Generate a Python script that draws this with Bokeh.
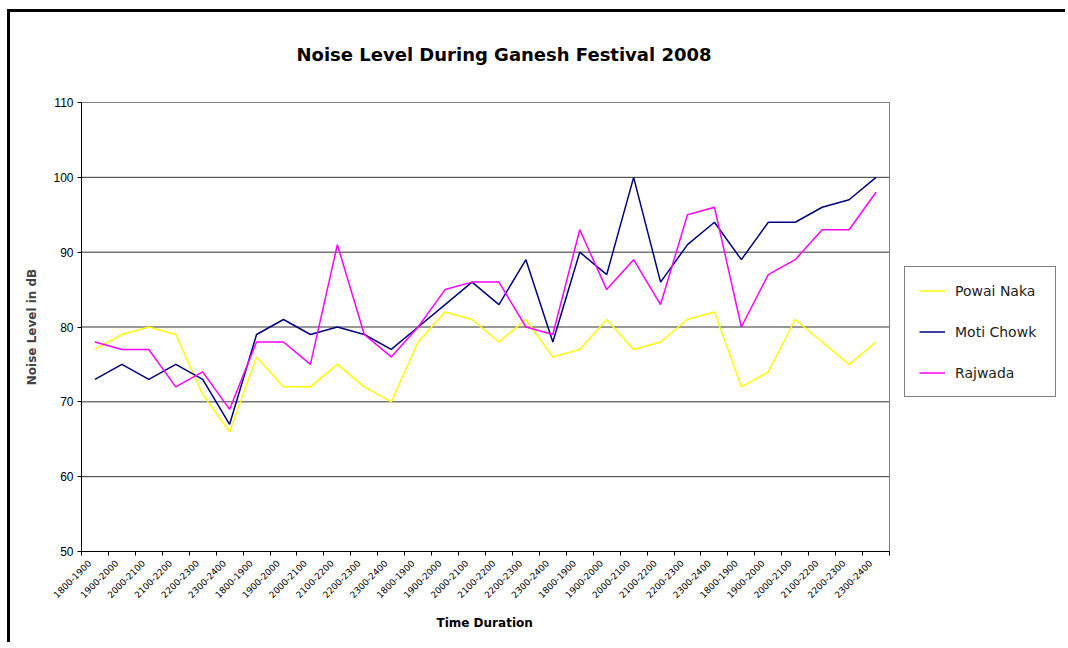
import numpy as np
from bokeh.plotting import figure
from bokeh.models import (Range1d, FixedTicker, Legend, LegendItem, Title,
                          CustomJSTickFormatter)
from bokeh.embed import file_html
from bokeh.resources import INLINE

# ---- data ----
slots = ["1800-1900", "1900-2000", "2000-2100", "2100-2200", "2200-2300", "2300-2400"]
time_labels = slots * 5

powai_naka = [77, 79, 80, 79, 71, 66, 76, 72, 72, 75, 72, 70, 78, 82, 81,
              78, 81, 76, 77, 81, 77, 78, 81, 82, 72, 74, 81, 78, 75, 78]
moti_chowk = [73, 75, 73, 75, 73, 67, 79, 81, 79, 80, 79, 77, 80, 83, 86,
              83, 89, 78, 90, 87, 100, 86, 91, 94, 89, 94, 94, 96, 97, 100]
rajwada = [78, 77, 77, 72, 74, 69, 78, 78, 75, 91, 79, 76, 80, 85, 86,
           86, 80, 79, 93, 85, 89, 83, 95, 96, 80, 87, 89, 93, 93, 98]

series_names = ["Powai Naka", "Moti Chowk", "Rajwada"]
series_colors = ["#FFFF00", "#000080", "#FF00FF"]
y_ticks = [50, 60, 70, 80, 90, 100, 110]

title_text = "Noise Level During Ganesh Festival 2008"
x_title = "Time Duration"
y_title = "Noise Level in dB"

n = len(time_labels)
x = np.arange(n)
y_lo, y_hi = y_ticks[0], y_ticks[-1]
x_lo, x_hi = -0.5, n - 0.5

# layout (pixels): plot area 808 x 449, legend space to its right, small pad
plot_w, plot_h, pad, extra_right = 808, 449, 2, 174
ux = plot_w / n
uy = plot_h / (y_hi - y_lo)

p = figure(frame_width=pad + plot_w + extra_right, frame_height=plot_h + 2 * pad,
           output_backend="svg", toolbar_location=None, title=None,
           x_range=Range1d(x_lo - pad / ux, x_hi + extra_right / ux),
           y_range=Range1d(y_lo - pad / uy, y_hi + pad / uy),
           min_border_left=69, min_border_top=88, min_border_bottom=89,
           min_border_right=2)
p.styles = {"border-left": "3px solid black", "border-top": "3px solid black",
            "margin-left": "7px", "margin-top": "9px"}
p.background_fill_color = "white"
p.border_fill_color = "white"
p.outline_line_color = None

# gridlines, plot-area border and axis lines
grid_vals = y_ticks[1:-1]
p.segment(x0=[x_lo] * len(grid_vals), y0=grid_vals, x1=[x_hi] * len(grid_vals),
          y1=grid_vals, line_color="#333333", line_width=1)
p.segment(x0=[x_lo, x_hi], y0=[y_hi, y_lo], x1=[x_hi, x_hi], y1=[y_hi, y_hi],
          line_color="#808080", line_width=1)
p.segment(x0=[x_lo, x_lo], y0=[y_lo, y_lo], x1=[x_hi, x_lo], y1=[y_lo, y_hi],
          line_color="black", line_width=1)

renderers = []
for vals, col in zip([powai_naka, moti_chowk, rajwada], series_colors):
    r = p.line(x, vals, line_color=col, line_width=1.5)
    renderers.append(r)

# title (a blank spacer next to the frame, then the title itself)
p.add_layout(Title(text=" ", text_font_size="10px", standoff=23), "above")
p.add_layout(Title(text=title_text, align="left", offset=217, standoff=0,
                   text_font="DejaVu Sans", text_font_style="bold",
                   text_font_size="18px", text_color="black"), "above")

# y axis
p.yaxis.ticker = FixedTicker(ticks=y_ticks)
p.yaxis.major_tick_out = 2
p.yaxis.major_tick_in = 2
p.yaxis.minor_tick_line_color = None
p.yaxis.axis_line_color = None
p.yaxis.major_label_text_font = "Liberation Sans"
p.yaxis.major_label_text_font_size = "12px"
p.yaxis.major_label_text_color = "black"
p.yaxis.major_label_standoff = 4
p.yaxis.axis_label = y_title
p.yaxis.axis_label_text_font = "DejaVu Sans"
p.yaxis.axis_label_text_font_style = "bold"
p.yaxis.axis_label_text_font_size = "12px"
p.yaxis.axis_label_standoff = 11

# x axis
shift = 0.2
p.xaxis.ticker = FixedTicker(ticks=[float(i) - shift for i in x],
                             minor_ticks=[float(i) - 0.5 for i in range(n + 1)])
p.xaxis.formatter = CustomJSTickFormatter(args=dict(labels=time_labels),
                                          code="return labels[index];")
p.xaxis.major_tick_out = 0
p.xaxis.major_tick_in = 0
p.xaxis.minor_tick_out = 2
p.xaxis.minor_tick_in = 2
p.xaxis.minor_tick_line_color = "black"
p.xaxis.axis_line_color = None
p.xaxis.major_label_orientation = np.pi / 4
p.xaxis.major_label_text_font = "DejaVu Sans"
p.xaxis.major_label_text_font_size = "9px"
p.xaxis.major_label_text_color = "black"
p.xaxis.major_label_standoff = 6

# x axis title, centred under the plot area
p.add_layout(Title(text=x_title, align="left", offset=357, standoff=19,
                   text_font="DejaVu Sans", text_font_style="bold",
                   text_font_size="12px", text_color="black"), "below")

p.xgrid.grid_line_color = None
p.ygrid.grid_line_color = None

legend = Legend(items=[LegendItem(label=nm, renderers=[r]) for nm, r in zip(series_names, renderers)],
                location=(825, 156), padding=14, spacing=22, label_height=19,
                glyph_height=19, glyph_width=26, label_standoff=10, label_width=86,
                label_text_font="DejaVu Sans", label_text_font_size="14px",
                label_text_color="#222222",
                border_line_color="black", border_line_width=1,
                background_fill_color="white", background_fill_alpha=1.0,
                margin=0)
p.add_layout(legend, "center")

open("out.html", "w").write(file_html(p, INLINE))
